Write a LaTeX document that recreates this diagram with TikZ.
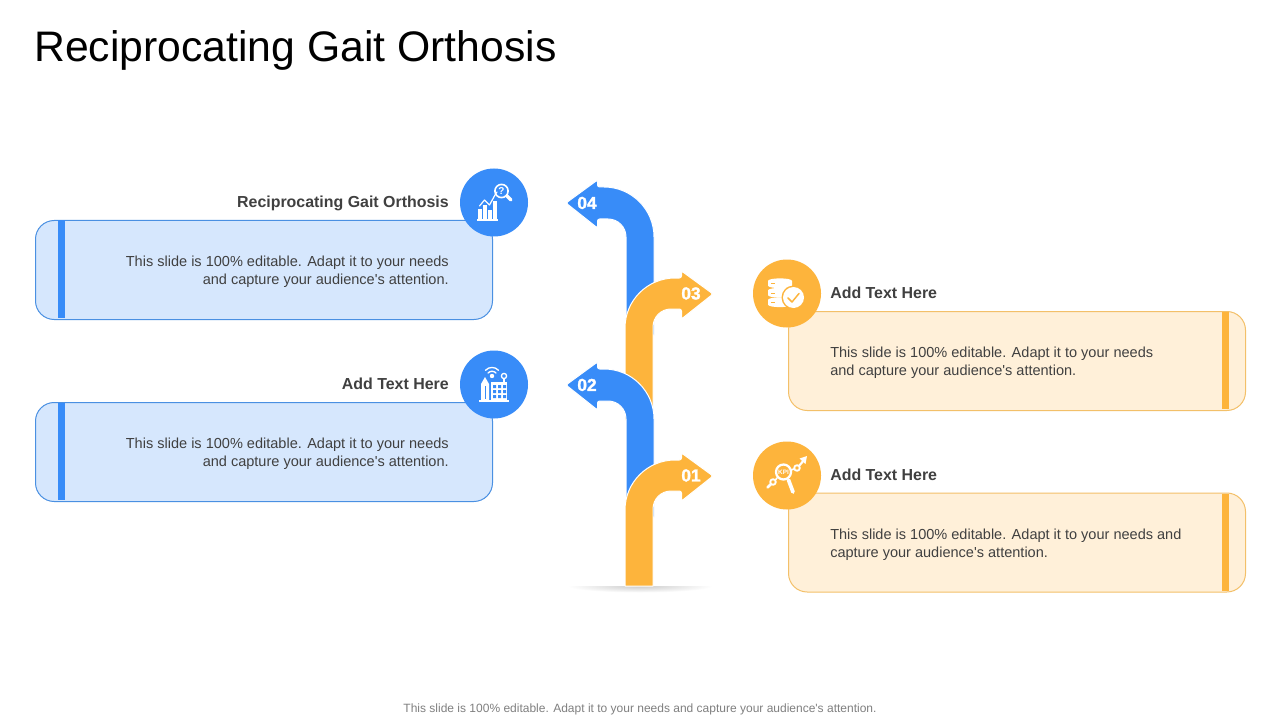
\documentclass[tikz,border=0pt]{standalone}
\usepackage{fontspec}
\setmainfont{Liberation Sans}
\newfontfamily\numfont[BoldFeatures={FakeBold=1.6}]{Liberation Sans}
\definecolor{bluemain}{HTML}{388CF8}
\definecolor{bluefill}{HTML}{D6E7FD}
\definecolor{blueedge}{HTML}{4A90E2}
\definecolor{orangemain}{HTML}{FDB43C}
\definecolor{orangefill}{HTML}{FFF0D9}
\definecolor{orangeedge}{HTML}{F3C069}
\definecolor{ink}{HTML}{404040}
\newcommand\leftarrowshape{[rounded corners=1.6pt] (566,203) -- (597.5,180) -- (597.5,187) [sharp corners] -- (604,187) .. controls (631.6,187) and (654,209.4) .. (654,237) -- (654,335) -- (626,335) -- (626,237) .. controls (626,227) and (618,219) .. (608,219) [rounded corners=1.6pt] -- (597.5,219) -- (597.5,228) -- cycle}
\newcommand\rightarrowshape[1]{[rounded corners=1.6pt] (713,294) -- (681.5,271) -- (681.5,278) [sharp corners] -- (675,278) .. controls (647.4,278) and (625,300.4) .. (625,328) -- (625,#1) -- (653,#1) -- (653,327) .. controls (653,317) and (661,309) .. (671,309) [rounded corners=1.6pt] -- (681.5,309) -- (681.5,319) -- cycle}
\newcommand\apo{\textquotesingle}
\tikzset{
  x=0.75pt,y=-0.75pt,
  panel/.style={draw=#1edge,fill=#1fill,line width=0.75pt,rounded corners=14pt,minimum width=342.75pt,minimum height=74.25pt,inner sep=0pt},
  badge/.style={circle,fill=#1main,minimum size=51pt,inner sep=0pt},
  barstrip/.style={fill=#1main,draw=none},
  arrowfill/.style={fill=#1main,draw=white,line width=0.75pt,line join=round},
  bodytext/.style={text=ink,font=\fontsize{10.9}{13.5}\selectfont,inner sep=0pt},
  headtext/.style={text=ink,font=\fontsize{11.95}{14}\selectfont\bfseries,inner sep=0pt},
  numtext/.style={text=white,font=\numfont\fontsize{13}{14}\selectfont\bfseries,inner sep=0pt},
  iconline/.style={draw=white,line width=1pt,line cap=round,line join=round},
  iconfill/.style={fill=white,draw=none},
}
\begin{document}
\begin{tikzpicture}
\useasboundingbox (0,0) rectangle (1280,720);
\fill[white] (0,0) rectangle (1280,720);
\node[anchor=base west,inner sep=0pt,text=black,font=\fontsize{32.03}{38}\selectfont] (title) at (34,62) {Reciprocating Gait Orthosis};
% panels
\node[panel=blue] (p4) at (264,270) {};
\node[panel=blue] (p2) at (264,452) {};
\node[panel=orange] (p3) at (1017,361) {};
\node[panel=orange] (p1) at (1017,542.5) {};
\fill[barstrip=blue] (58,220.5) rectangle (65,318);
\fill[barstrip=blue] (58,402.5) rectangle (65,500);
\fill[barstrip=orange] (1222,311.5) rectangle (1229,409);
\fill[barstrip=orange] (1222,493.5) rectangle (1229,591);
% shadow
\begin{scope}
\clip (560,586) rectangle (720,593);
\shade[inner color=black!20,outer color=white] (640,586) ellipse (72 and 6.5);
\end{scope}
% arrows
\draw[arrowfill=blue] \leftarrowshape;
\draw[arrowfill=orange] \rightarrowshape{420};
\begin{scope}[shift={(0,182)}]
\draw[arrowfill=blue] \leftarrowshape;
\draw[arrowfill=orange] \rightarrowshape{404};
\end{scope}
\node[numtext] (n4) at (587,203) {04};
\node[numtext] (n3) at (691,293.5) {03};
\node[numtext] (n2) at (587,385) {02};
\node[numtext] (n1) at (691,475.5) {01};
% badges
\node[badge=blue] (b4) at (494,202.5) {};
\node[badge=blue] (b2) at (494,384.5) {};
\node[badge=orange] (b3) at (787,293.5) {};
\node[badge=orange] (b1) at (787,475.5) {};
% labels
\node[headtext,anchor=base east] (h4) at (449,207.5) {Reciprocating Gait Orthosis};
\node[headtext,anchor=base east] (h2) at (449,389.5) {Add Text Here};
\node[headtext,anchor=base west] (h3) at (830,298.5) {Add Text Here};
\node[headtext,anchor=base west] (h1) at (830,480.5) {Add Text Here};
\node[bodytext,anchor=east,align=right] (t4) at (449,272) {This slide is 100\% editable. Adapt it to your needs\\and capture your audience\apo s attention.};
\node[bodytext,anchor=east,align=right] (t2) at (449,454) {This slide is 100\% editable. Adapt it to your needs\\and capture your audience\apo s attention.};
\node[bodytext,anchor=west,align=left] (t3) at (830,363) {This slide is 100\% editable. Adapt it to your needs\\and capture your audience\apo s attention.};
\node[bodytext,anchor=west,align=left] (t1) at (830,545) {This slide is 100\% editable. Adapt it to your needs and\\capture your audience\apo s attention.};
\node[anchor=base,inner sep=0pt,text=black!50,font=\fontsize{9}{11}\selectfont] (foot) at (640,712) {This slide is 100\% editable. Adapt it to your needs and capture your audience\apo s attention.};
% icon: chart + magnifier
\fill[iconfill] (477,219.5) rectangle (498,221);
\foreach \a/\b in {478/209,483/205,488/210,493/201}{\fill[iconfill] (\a,\b) rectangle (\a+3.6,220);}
\draw[iconline,line width=0.9pt] (479.5,206) -- (484.5,200) -- (489.5,205) -- (495,195) -- (497,192);
\draw[iconline,line width=1.2pt] (501.5,191) circle (6.6);
\draw[iconline,line width=2.6pt] (507,196) -- (511,200);
\node[text=white,inner sep=0pt,font=\fontsize{7.5}{8}\selectfont\bfseries] (q) at (501.5,191) {?};
% icon: smart building
\fill[iconfill] (479,400.3) rectangle (509,402);
\fill[iconfill] (481,384) -- (485,377) -- (489,384) -- (489,401) -- (481,401) -- cycle;
\fill[bluemain] (484.6,386) rectangle (485.4,399);
\fill[iconfill] (491,382) rectangle (507,401);
\fill[bluemain] \foreach \a in {493,498,503}{\foreach \b in {385,390,395}{(\a,\b) rectangle (\a+3.2,\b+3)}};
\fill[iconfill] (492,376) circle (2.2);
\draw[iconline] (488,373) .. controls (490,370.7) and (494,370.7) .. (496,373);
\draw[iconline] (485.5,370.3) .. controls (489,366.5) and (495,366.5) .. (498.5,370.3);
\draw[iconline,fill=bluemain] (504,376) circle (2.6);
\draw[iconline] (504,378.6) -- (504,382);
% icon: database + check
\foreach \y in {279,288.5,298}{
\fill[iconfill] (768,\y+2) .. controls (768,\y-1.5) and (792,\y-1.5) .. (792,\y+2) -- (792,\y+6.5) .. controls (792,\y+10) and (768,\y+10) .. (768,\y+6.5) -- cycle;
\fill[orangemain] (771,\y+4) rectangle (774.5,\y+4.9);
}
\fill[orangemain] (793.5,297.5) circle (12);
\fill[iconfill] (793.5,297.5) circle (10.5);
\draw[draw=orangemain,line width=1.1pt,line cap=round,line join=round] (788,298) -- (792,302) -- (799,293.5);
% icon: KPI magnifier
\draw[iconline,line width=1.7pt] (783.5,472) circle (7.5);
\draw[iconline,line width=2.8pt] (788.5,480) -- (793,492);
\node[text=white,inner sep=0pt,font=\fontsize{4.8}{5}\selectfont\bfseries] (kpi) at (783.5,472) {KPI};
\draw[iconline,line width=1.4pt] (773,482) circle (2.8);
\draw[iconline,line width=2pt] (770.8,484.2) -- (767.5,487.5);
\draw[iconline,line width=1.2pt] (775.5,479.8) -- (777,478);
\draw[iconline,line width=1.4pt] (797,468) circle (2.8);
\draw[iconline,line width=1.2pt] (791,470) -- (794,469);
\draw[iconline,line width=1.6pt] (799.2,465.8) -- (804,460);
\fill[iconfill] (807,456) -- (799.5,458.5) -- (805.5,464) -- cycle;
\end{tikzpicture}
\end{document}
